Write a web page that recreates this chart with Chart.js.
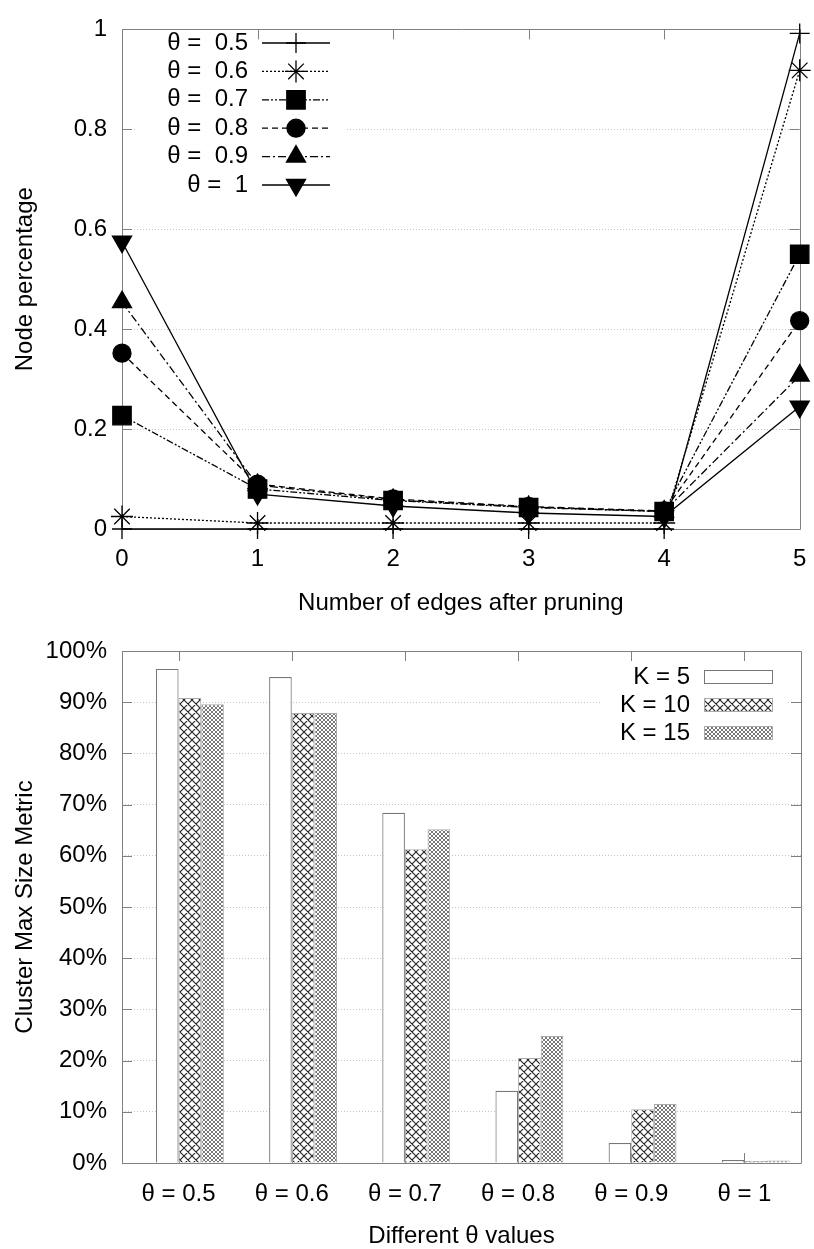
<!DOCTYPE html>
<html>
<head>
<meta charset="utf-8">
<script src="https://cdn.jsdelivr.net/npm/chart.js@4.4.0/dist/chart.umd.min.js"></script>
<style>
  html, body { margin: 0; padding: 0; background: #fff; }
  #top { position: absolute; left: 0; top: 0; width: 814px; height: 620px; }
  #bottom { position: absolute; left: 0; top: 620px; width: 814px; height: 629px; }
</style>
</head>
<body>
<div id="top"><canvas id="edgeChart"></canvas></div>
<div id="bottom"><canvas id="clusterChart"></canvas></div>
<script>
// top chart: node percentage per number of remaining edges
const edgeCounts = [0, 1, 2, 3, 4, 5];
const theta05 = [0, 0, 0, 0, 0, 0.992];
const theta06 = [0.025, 0.012, 0.012, 0.012, 0.012, 0.918];
const theta07 = [0.227, 0.080, 0.057, 0.043, 0.035, 0.550];
const theta08 = [0.352, 0.090, 0.060, 0.045, 0.036, 0.417];
const theta09 = [0.454, 0.088, 0.058, 0.044, 0.035, 0.307];
const theta10 = [0.575, 0.070, 0.046, 0.032, 0.025, 0.245];
const lineLabels = ["θ =  0.5", "θ =  0.6", "θ =  0.7", "θ =  0.8", "θ =  0.9", "θ =  1"];

// bottom chart: cluster max size metric
const thetaCategories = ["θ = 0.5", "θ = 0.6", "θ = 0.7", "θ = 0.8", "θ = 0.9", "θ = 1"];
const k5 = [0.965, 0.949, 0.684, 0.141, 0.039, 0.006];
const k10 = [0.908, 0.879, 0.613, 0.205, 0.105, 0.004];
const k15 = [0.896, 0.879, 0.652, 0.248, 0.115, 0.005];
const barLabels = ["K = 5", "K = 10", "K = 15"];

const FONT = '"Liberation Sans", Arial, sans-serif';
const FSIZE = 24;
Chart.defaults.font.family = FONT;
Chart.defaults.font.size = FSIZE;
Chart.defaults.color = "#000";

// hatch fill used by the bars
function hatch(size, color, width) {
    let c = document.createElement("canvas");
    c.width = size; c.height = size;
    let g = c.getContext("2d");
    g.fillStyle = "#fff";
    g.fillRect(0, 0, size, size);
    g.strokeStyle = color;
    g.lineWidth = width;
    g.beginPath();
    for (let k = -1; k <= 1; k++) {
        g.moveTo(k * size, 0); g.lineTo(k * size + size, size);
        g.moveTo(k * size + size, 0); g.lineTo(k * size, size);
    }
    g.stroke();
    return g.createPattern(c, "repeat");
}

// gray frame with inward ticks, like gnuplot
const framePlugin = {
    id: "frame",
    beforeDatasetsDraw(chart) {
        const { ctx, chartArea: a, scales } = chart;
        ctx.save();
        ctx.strokeStyle = "#808080";
        ctx.lineWidth = 1;
        ctx.beginPath();
        ctx.rect(Math.round(a.left) + 0.5, Math.round(a.top) + 0.5,
                 Math.round(a.right - a.left), Math.round(a.bottom - a.top));
        scales.y.ticks.forEach(t => {
            let y = Math.round(scales.y.getPixelForValue(t.value)) + 0.5;
            ctx.moveTo(a.left, y); ctx.lineTo(a.left + 10, y);
            ctx.moveTo(a.right, y); ctx.lineTo(a.right - 10, y);
        });
        scales.x.ticks.forEach((t, i) => {
            let x = Math.round(scales.x.getPixelForTick(i)) + 0.5;
            ctx.moveTo(x, a.top); ctx.lineTo(x, a.top + 10);
            ctx.moveTo(x, a.bottom); ctx.lineTo(x, a.bottom - 10);
        });
        ctx.stroke();
        ctx.restore();
    }
};

// key for the line chart: text on the left, sample on the right
const lineKey = {
    id: "lineKey",
    beforeDatasetsDraw(chart) {
        const ctx = chart.ctx;
        ctx.save();
        ctx.fillStyle = "#fff";
        ctx.fillRect(135, 26, 212, 175);
        ctx.restore();
    },
    afterDatasetsDraw(chart) {
        const ctx = chart.ctx;
        ctx.save();
        ctx.font = FSIZE + "px " + FONT;
        ctx.textAlign = "right";
        ctx.textBaseline = "middle";
        chart.data.datasets.forEach((ds, i) => {
            let y = 43 + i * 28.4;
            ctx.fillStyle = "#000";
            ctx.fillText(ds.label, 248, y);
            ctx.strokeStyle = "#000";
            ctx.lineWidth = ds.borderWidth;
            ctx.setLineDash(ds.borderDash || []);
            ctx.beginPath();
            ctx.moveTo(262, y); ctx.lineTo(330, y);
            ctx.stroke();
            ctx.setLineDash([]);
            Chart.helpers.drawPoint(ctx, {
                pointStyle: ds.pointStyle,
                rotation: ds.pointRotation || 0,
                radius: ds.pointRadius,
                borderWidth: ds.pointBorderWidth
            }, 296, y);
        });
        ctx.restore();
    }
};

// key for the bar chart
const barKey = {
    id: "barKey",
    beforeDatasetsDraw(chart) {
        const ctx = chart.ctx;
        ctx.save();
        ctx.fillStyle = "#fff";
        ctx.fillRect(600, 40, 188, 88);
        ctx.restore();
    },
    afterDatasetsDraw(chart) {
        const ctx = chart.ctx;
        ctx.save();
        ctx.font = FSIZE + "px " + FONT;
        ctx.textAlign = "right";
        ctx.textBaseline = "middle";
        chart.data.datasets.filter(ds => ds.label).forEach((ds, i) => {
            let y = 57 + i * 28;
            ctx.fillStyle = "#000";
            ctx.fillText(ds.label, 690, y);
            ctx.fillStyle = ds.backgroundColor;
            ctx.fillRect(704, y - 7, 69, 14);
            ctx.strokeStyle = ds.borderColor;
            ctx.lineWidth = 1;
            ctx.strokeRect(704.5, y - 6.5, 68, 13);
        });
        ctx.restore();
    }
};

function lineSet(label, data, dash, style, radius, rotation) {
    return {
        label: label,
        data: data,
        borderColor: "#000",
        backgroundColor: "#000",
        borderWidth: 1.3,
        borderDash: dash,
        pointStyle: style,
        pointRadius: radius,
        pointRotation: rotation || 0,
        pointBackgroundColor: "#000",
        pointBorderColor: "#000",
        pointBorderWidth: 1.3,
        tension: 0,
        clip: false
    };
}

const gridColor = c => (c.tick && (c.tick.value <= 0 || c.tick.value >= 1)) ? "rgba(0,0,0,0)" : "#c4c4c4";

new Chart(document.getElementById("edgeChart").getContext("2d"), {
    type: "line",
    data: {
        labels: edgeCounts,
        datasets: [
            lineSet(lineLabels[0], theta05, [], "cross", 10),
            lineSet(lineLabels[1], theta06, [2, 2], "star", 11),
            lineSet(lineLabels[2], theta07, [7, 2, 2, 2, 2, 2], "rect", 13),
            lineSet(lineLabels[3], theta08, [6, 4], "circle", 9),
            lineSet(lineLabels[4], theta09, [8, 3, 2, 3], "triangle", 11),
            lineSet(lineLabels[5], theta10, [], "triangle", 11, 180)
        ]
    },
    options: {
        responsive: true,
        maintainAspectRatio: false,
        animation: false,
        layout: { padding: { top: 18, right: 13, left: 0, bottom: 0 } },
        plugins: { legend: { display: false }, tooltip: { enabled: false } },
        scales: {
            x: {
                type: "category",
                offset: false,
                grid: { display: false, drawTicks: false },
                border: { display: false },
                ticks: { padding: 16, maxRotation: 0 },
                title: { display: true, text: "Number of edges after pruning", padding: { top: 0, bottom: 2 } },
                afterFit: s => { s.height = 91; s.paddingLeft = 7; s.paddingRight = 7; }
            },
            y: {
                min: 0,
                max: 1,
                ticks: { stepSize: 0.2, padding: 15, callback: v => String(+v.toFixed(1)) },
                grid: { color: gridColor, drawTicks: false },
                border: { display: false, dash: [1, 2] },
                title: { display: true, text: "Node percentage", padding: { top: 11, bottom: 0 } },
                afterFit: s => { s.width = 122; }
            }
        }
    },
    plugins: [lineKey, framePlugin]
});

new Chart(document.getElementById("clusterChart").getContext("2d"), {
    type: "bar",
    data: {
        labels: thetaCategories,
        datasets: [
            // empty slot so the three bars start at the category centre
            { label: "", data: thetaCategories.map(() => null) },
            { label: barLabels[0], data: k5, backgroundColor: "#fff", borderColor: "#777", borderWidth: 1.2 },
            { label: barLabels[1], data: k10, backgroundColor: hatch(8, "#222", 1.1), borderColor: "#aaa", borderWidth: 1 },
            { label: barLabels[2], data: k15, backgroundColor: hatch(4, "#555", 0.8), borderColor: "#aaa", borderWidth: 1 }
        ]
    },
    options: {
        responsive: true,
        maintainAspectRatio: false,
        animation: false,
        layout: { padding: { top: 31, right: 13, left: 0, bottom: 0 } },
        datasets: { bar: { categoryPercentage: 0.8, barPercentage: 1.0 } },
        plugins: { legend: { display: false }, tooltip: { enabled: false } },
        scales: {
            x: {
                grid: { display: false, drawTicks: false },
                border: { display: false },
                ticks: { padding: 17, maxRotation: 0 },
                title: { display: true, text: "Different θ values", padding: { top: 0, bottom: -2 } },
                afterFit: s => { s.height = 86; s.paddingLeft = 0; s.paddingRight = 0; }
            },
            y: {
                min: 0,
                max: 1,
                ticks: { stepSize: 0.1, padding: 15, callback: v => Math.round(v * 100) + "%" },
                grid: { color: gridColor, drawTicks: false },
                border: { display: false, dash: [1, 2] },
                title: { display: true, text: "Cluster Max Size Metric", padding: { top: 11, bottom: 0 } },
                afterFit: s => { s.width = 122; }
            }
        }
    },
    plugins: [barKey, framePlugin]
});
</script>
</body>
</html>
